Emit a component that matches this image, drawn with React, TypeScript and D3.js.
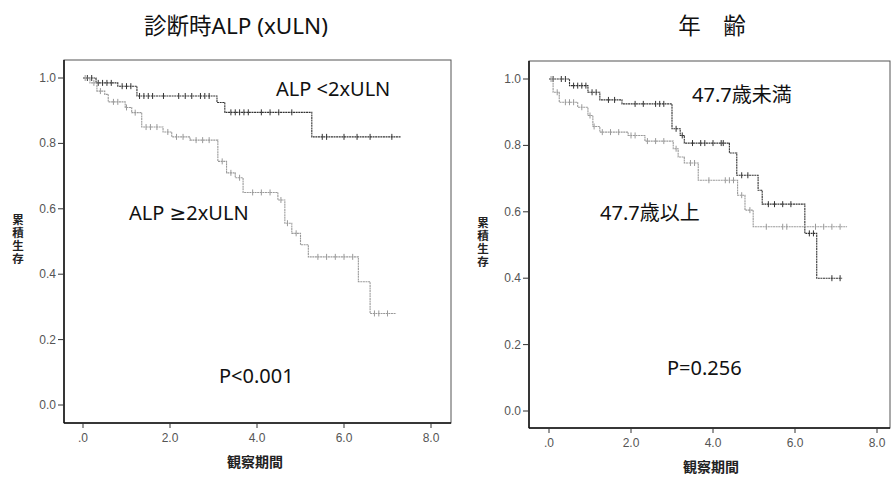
import React from "react";
import * as d3 from "d3";

// survival step data: [time, survival after step]
const alpLowTimes = [0, 0.3, 0.8, 1.24, 3.08, 3.26, 5.26];
const alpLowSurv = [1.0, 0.985, 0.975, 0.945, 0.925, 0.895, 0.82];
const alpLowEnd = 7.3;
const alpLowCensor = [0.1, 0.2, 0.35, 0.45, 0.55, 0.65, 0.9, 1.0, 1.1, 1.3, 1.4, 1.5, 1.6, 1.85, 2.2, 2.35, 2.5, 2.7, 2.8, 2.9, 3.4, 3.5, 3.6, 3.7, 3.8, 4.1, 4.3, 4.5, 4.8, 5.5, 5.6, 6.0, 6.3, 6.6, 7.1];

const alpHighTimes = [0, 0.16, 0.32, 0.5, 0.58, 0.97, 1.12, 1.35, 1.84, 2.04, 2.46, 3.1, 3.3, 3.5, 3.68, 4.48, 4.64, 4.8, 5.0, 5.18, 6.33, 6.6];
const alpHighSurv = [1.0, 0.985, 0.96, 0.95, 0.927, 0.91, 0.894, 0.85, 0.835, 0.82, 0.81, 0.745, 0.71, 0.695, 0.65, 0.627, 0.556, 0.525, 0.49, 0.453, 0.377, 0.28];
const alpHighEnd = 7.2;
const alpHighCensor = [0.05, 0.25, 0.4, 0.7, 0.8, 1.0, 1.2, 1.45, 1.55, 1.7, 1.95, 2.15, 2.3, 2.6, 2.75, 2.9, 3.2, 3.4, 3.6, 3.9, 4.1, 4.3, 4.55, 4.7, 4.9, 5.4, 5.6, 5.8, 6.0, 6.2, 6.7, 6.8, 7.0];

const youngTimes = [0, 0.5, 0.95, 1.24, 1.78, 3.0, 3.2, 3.3, 4.4, 4.58, 5.1, 5.2, 6.24, 6.53];
const youngSurv = [1.0, 0.98, 0.96, 0.937, 0.925, 0.85, 0.83, 0.807, 0.777, 0.71, 0.665, 0.623, 0.535, 0.4];
const youngEnd = 7.15;
const youngCensor = [0.1, 0.3, 0.4, 0.6, 0.7, 0.8, 0.9, 1.05, 1.15, 1.45, 1.6, 2.1, 2.3, 2.6, 2.7, 2.8, 3.1, 3.25, 3.5, 3.7, 3.8, 4.0, 4.2, 4.25, 4.7, 4.85, 5.35, 5.5, 5.7, 5.9, 6.35, 6.45, 6.9, 7.1];

const oldTimes = [0, 0.1, 0.25, 0.7, 0.95, 1.07, 1.24, 1.93, 2.34, 3.03, 3.15, 3.3, 3.64, 4.6, 4.78, 4.98];
const oldSurv = [1.0, 0.96, 0.93, 0.915, 0.89, 0.857, 0.84, 0.83, 0.813, 0.79, 0.765, 0.747, 0.695, 0.65, 0.605, 0.555];
const oldEnd = 7.27;
const oldCensor = [0.05, 0.2, 0.4, 0.5, 0.6, 0.8, 1.0, 1.1, 1.3, 1.5, 1.7, 2.0, 2.1, 2.4, 2.6, 2.8, 3.1, 3.45, 3.55, 3.9, 4.3, 4.4, 4.5, 4.7, 4.9, 5.3, 5.7, 5.8, 6.5, 6.7, 6.9, 7.1];

const xTickValues = [0, 2, 4, 6, 8];
const xTickLabels = [".0", "2.0", "4.0", "6.0", "8.0"];
const yTickValues = [0, 0.2, 0.4, 0.6, 0.8, 1.0];
const yTickLabels = ["0.0", "0.2", "0.4", "0.6", "0.8", "1.0"];
const yAxisTitle = "累積生存";

const jp = "'Noto Sans', 'DejaVu Sans', 'Noto Sans CJK JP', sans-serif";
const axisFont = "'Liberation Sans', Arial, sans-serif";

function stepPoints(times, surv, end) {
  const pts = [];
  times.forEach((t, i) => {
    if (i > 0) pts.push([t, surv[i - 1]]);
    pts.push([t, surv[i]]);
  });
  pts.push([end, surv[surv.length - 1]]);
  return pts;
}

function survAt(times, surv, t) {
  let s = surv[0];
  times.forEach((tt, i) => {
    if (tt <= t) s = surv[i];
  });
  return s;
}

function Curve({ x, y, times, surv, end, censor, color }) {
  const line = d3
    .line()
    .x((d) => x(d[0]))
    .y((d) => y(d[1]));
  return (
    <g>
      <path
        d={line(stepPoints(times, surv, end))}
        fill="none"
        stroke={color}
        strokeWidth={1.1}
        strokeDasharray="2 0.6"
      />
      {censor.map((t, i) => (
        <line
          key={i}
          x1={x(t)}
          x2={x(t)}
          y1={y(survAt(times, surv, t)) - 3}
          y2={y(survAt(times, surv, t)) + 3}
          stroke={color}
          strokeWidth={1}
        />
      ))}
    </g>
  );
}

function Panel({ frame, xRange, yRange, title, titleX, curves, labels }) {
  const x = d3.scaleLinear().domain([0, 8]).range(xRange);
  const y = d3.scaleLinear().domain([0, 1]).range(yRange);
  const [fl, ft, fr, fb] = frame;
  const labelMid = (y(0.6) + y(0.4)) / 2 - 2;
  return (
    <g>
      <text x={titleX} y={34} textAnchor="middle" fontFamily={jp} fontSize={22.5} fill="#111">
        {title}
      </text>
      <rect x={fl} y={ft} width={fr - fl} height={fb - ft} fill="none" stroke="#555" strokeWidth={1} />
      <line x1={fl} x2={fl} y1={ft} y2={fb} stroke="#111" strokeWidth={1.5} />
      <line x1={fl} x2={fr} y1={fb} y2={fb} stroke="#111" strokeWidth={1.5} />
      {yTickValues.map((v, i) => (
        <g key={i}>
          <line x1={fl - 6} x2={fl} y1={y(v)} y2={y(v)} stroke="#333" />
          <text x={fl - 8} y={y(v) + 4} textAnchor="end" fontFamily={axisFont} fontSize={12} fill="#555">
            {yTickLabels[i]}
          </text>
        </g>
      ))}
      {xTickValues.map((v, i) => (
        <g key={i}>
          <line x1={x(v)} x2={x(v)} y1={fb} y2={fb + 5} stroke="#333" />
          <text x={x(v)} y={fb + 19} textAnchor="middle" fontFamily={axisFont} fontSize={12} fill="#555">
            {xTickLabels[i]}
          </text>
        </g>
      ))}
      <text x={(x(0) + x(8)) / 2 - 2} y={fb + 44} textAnchor="middle" fontFamily={jp} fontWeight="bold" fontSize={14} fill="#222">
        観察期間
      </text>
      <text
        x={fl - 46}
        y={labelMid}
        textAnchor="middle"
        fontFamily="'Noto Sans CJK JP', sans-serif"
        fontWeight="bold"
        fontSize={11.5}
        letterSpacing={1.5}
        fill="#222"
        style={{ writingMode: "vertical-rl" }}
      >
        {yAxisTitle}
      </text>
      {curves.map((c, i) => (
        <Curve key={i} x={x} y={y} {...c} />
      ))}
      {labels.map((l, i) => (
        <text key={i} x={l.x} y={l.y} fontFamily={jp} fontSize={20} fill="#111">
          {l.text}
        </text>
      ))}
    </g>
  );
}

export default function App() {
  return (
    <svg width={892} height={484} style={{ position: "absolute", left: 0, top: 0, background: "#fff" }}>
      <rect width={892} height={484} fill="#fff" />
      <Panel
        frame={[64, 60, 451, 423]}
        xRange={[83, 431]}
        yRange={[405, 78]}
        title="診断時ALP (xULN)"
        titleX={236}
        curves={[
          { times: alpLowTimes, surv: alpLowSurv, end: alpLowEnd, censor: alpLowCensor, color: "#333" },
          { times: alpHighTimes, surv: alpHighSurv, end: alpHighEnd, censor: alpHighCensor, color: "#9a9a9a" },
        ]}
        labels={[
          { text: "ALP <2xULN", x: 276, y: 96 },
          { text: "ALP ≥2xULN", x: 129, y: 220 },
          { text: "P<0.001", x: 219, y: 383 },
        ]}
      />
      <Panel
        frame={[529, 61, 890, 428]}
        xRange={[549, 877]}
        yRange={[411, 79]}
        title="年　齢"
        titleX={712}
        curves={[
          { times: youngTimes, surv: youngSurv, end: youngEnd, censor: youngCensor, color: "#333" },
          { times: oldTimes, surv: oldSurv, end: oldEnd, censor: oldCensor, color: "#9a9a9a" },
        ]}
        labels={[
          { text: "47.7歳未満", x: 692, y: 102 },
          { text: "47.7歳以上", x: 600, y: 220 },
          { text: "P=0.256", x: 667, y: 375 },
        ]}
      />
    </svg>
  );
}
